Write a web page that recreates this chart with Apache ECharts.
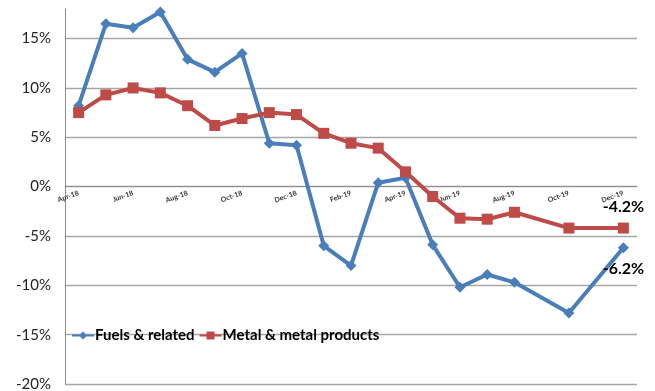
<!DOCTYPE html>
<html>
<head>
<meta charset="utf-8">
<script src="https://cdn.jsdelivr.net/npm/echarts@6/dist/echarts.min.js"></script>
<style>
  html, body { margin: 0; padding: 0; background: #fff; }
  #chart { width: 655px; height: 391px; }
</style>
</head>
<body>
<div id="chart"></div>
<script>
const months = ['Apr-18', 'May-18', 'Jun-18', 'Jul-18', 'Aug-18', 'Sep-18', 'Oct-18', 'Nov-18', 'Dec-18',
  'Jan-19', 'Feb-19', 'Mar-19', 'Apr-19', 'May-19', 'Jun-19', 'Jul-19', 'Aug-19', 'Sep-19', 'Oct-19', 'Nov-19', 'Dec-19'];

// growth, % (Sep-19 and Nov-19 have no value)
const fuels = [8.2, 16.5, 16.1, 17.7, 12.9, 11.6, 13.5, 4.4, 4.2,
  -6.0, -8.0, 0.4, 0.9, -5.9, -10.2, -8.9, -9.7, null, -12.8, null, -6.2];
const metals = [7.5, 9.3, 10.0, 9.5, 8.2, 6.2, 6.9, 7.5, 7.3,
  5.4, 4.4, 3.9, 1.5, -1.0, -3.2, -3.3, -2.6, null, -4.2, null, -4.2];

const yMin = -20, yMax = 18;
const font = 'Lato, "Open Sans", sans-serif';

// only the last point carries a label
function withEndLabel(arr, pos) {
  return arr.map((v, i) => {
    if (i !== arr.length - 1) return v;
    return {
      value: v,
      label: {
        show: true, position: pos, distance: 8,
        formatter: p => p.value.toFixed(1) + '%',
        fontFamily: font, fontWeight: 'bold', fontSize: 16, color: '#000'
      }
    };
  });
}

const gridTop = 9, gridBottom = 7, H = 391;
const plotH = H - gridTop - gridBottom;
// move the category axis up to the 0% line
const zeroOffset = -plotH * (0 - yMin) / (yMax - yMin);

const chart = echarts.init(document.getElementById('chart'));
chart.setOption({
  animation: false,
  grid: { left: 65, right: 18, top: gridTop, bottom: gridBottom, containLabel: false, outerBoundsMode: 'none' },
  legend: {
    left: 66, top: 323,
    itemWidth: 22, itemHeight: 10, itemGap: 4,
    textStyle: { fontFamily: font, fontWeight: 'bold', fontSize: 15, color: '#000', padding: [0, 0, 0, -4] },
    data: ['Fuels & related', 'Metal & metal products']
  },
  xAxis: {
    type: 'category',
    data: months,
    boundaryGap: true,
    offset: zeroOffset,
    axisLine: { onZero: false, lineStyle: { color: '#8c8c8c', width: 1 } },
    axisTick: { interval: 1, length: 4, lineStyle: { color: '#8c8c8c' } },
    axisLabel: {
      interval: 1, rotate: 20, margin: 6,
      fontFamily: font, fontSize: 7, fontWeight: 'bold', color: '#333'
    }
  },
  yAxis: {
    type: 'value',
    min: yMin, max: yMax, interval: 5,
    axisLine: { show: true, lineStyle: { color: '#8c8c8c', width: 1 } },
    axisTick: { show: false },
    splitLine: { showMaxLine: false, lineStyle: { color: '#a6a6a6', width: 1.3 } },
    axisLabel: {
      margin: 14,
      fontFamily: font, fontSize: 15, color: '#222',
      formatter: v => (v % 5 === 0 ? v + '%' : '')
    }
  },
  series: [
    {
      name: 'Fuels & related',
      type: 'line',
      data: withEndLabel(fuels, 'bottom'),
      connectNulls: true,
      symbol: 'diamond', symbolSize: 11,
      lineStyle: { color: '#4a7ebb', width: 4 },
      itemStyle: { color: '#4a7ebb' }
    },
    {
      name: 'Metal & metal products',
      type: 'line',
      data: withEndLabel(metals, 'top'),
      connectNulls: true,
      symbol: 'rect', symbolSize: 11,
      lineStyle: { color: '#be4b48', width: 4 },
      itemStyle: { color: '#be4b48' }
    }
  ]
});
</script>
</body>
</html>
